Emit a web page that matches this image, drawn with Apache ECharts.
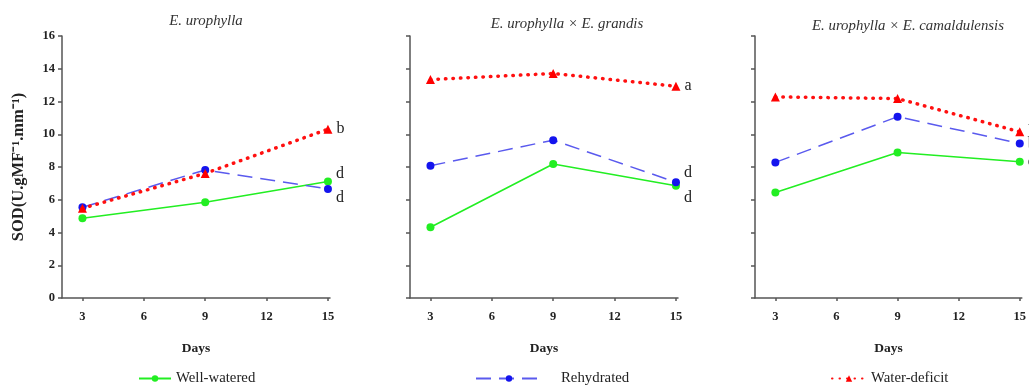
<!DOCTYPE html>
<html>
<head>
<meta charset="utf-8">
<script src="https://cdn.jsdelivr.net/npm/echarts@6/dist/echarts.min.js"></script>
<style>html,body{margin:0;padding:0;background:#fff}#c{width:1029px;height:385px}</style>
</head>
<body>
<div id="c"></div>
<script>
// ---- data ----
const days = [3, 9, 15];
const xTicks = [3, 6, 9, 12, 15];
const panelTitles = ['E. urophylla', 'E. urophylla \u00d7 E. grandis', 'E. urophylla \u00d7 E. camaldulensis'];
const seriesNames = ['Well-watered', 'Rehydrated', 'Water-deficit'];
const wellWatered1 = [4.87, 5.85, 7.11];
const rehydrated1 = [5.54, 7.82, 6.66];
const waterDeficit1 = [5.48, 7.61, 10.31];
const wellWatered2 = [4.32, 8.18, 6.86];
const rehydrated2 = [8.08, 9.64, 7.07];
const waterDeficit2 = [13.34, 13.71, 12.93];
const wellWatered3 = [6.44, 8.89, 8.32];
const rehydrated3 = [8.28, 11.07, 9.44];
const waterDeficit3 = [12.28, 12.18, 10.15];
const letters1 = ['d', 'd', 'b'];
const letters2 = ['d', 'd', 'a'];
const letters3 = ['c', 'b', 'b'];
const yAxisName = 'SOD(U.gMF\u207b\u00b9.mm\u207b\u00b9)';
const xAxisName = 'Days';

// ---- layout / style ----
const serif = 'Liberation Serif';
const gridLefts = [62, 410, 755];
const titleCenters = [201, 562, 903];
const titleTops = [9, 12, 14];
const panels = [
  [wellWatered1, rehydrated1, waterDeficit1],
  [wellWatered2, rehydrated2, waterDeficit2],
  [wellWatered3, rehydrated3, waterDeficit3]
];
const letters = [letters1, letters2, letters3];
// label offsets per panel per series
const labelOffsets = [
  [[0, -8], [0, 9], [0, 0]],
  [[0, 12], [0, -9], [0, 0]],
  [[0, 0], [0, 0], [0, 0]]
];
const styles = [
  {color: '#22ee22', line: {color: '#22ee22', width: 1.6, type: 'solid'}, symbol: 'circle', size: 8},
  {color: '#1414ee', line: {color: '#5a5aee', width: 1.5, type: [15, 8]}, symbol: 'circle', size: 8},
  {color: '#ff0000', line: {color: '#ff1010', width: 3.5, type: [0.5, 7], cap: 'round'}, symbol: 'triangle', size: 9}
];

const grids = [], xAxes = [], yAxes = [], series = [], titles = [];
for (let p = 0; p < 3; p++) {
  grids.push({left: gridLefts[p], top: 36, width: 268, height: 262});
  titles.push({
    text: panelTitles[p], left: titleCenters[p], top: titleTops[p], textAlign: 'center',
    textStyle: {fontFamily: serif, fontStyle: 'italic', fontWeight: 'normal', fontSize: 14.8, color: '#333'}
  });
  xAxes.push({
    type: 'value', gridIndex: p, min: 2, max: 15.1,
    name: xAxisName, nameLocation: 'middle', nameGap: 44,
    nameTextStyle: {fontFamily: serif, fontWeight: 'bold', fontSize: 13.5, color: '#222'},
    axisLine: {show: true, lineStyle: {color: '#555', width: 1.5}},
    axisTick: {show: true, length: 3, customValues: xTicks, lineStyle: {color: '#555', width: 1.5}},
    axisLabel: {customValues: xTicks, margin: 12, fontFamily: serif, fontWeight: 'bold', fontSize: 12.5, color: '#222'},
    splitLine: {show: false}
  });
  yAxes.push({
    type: 'value', gridIndex: p, min: 0, max: 16, interval: 2,
    name: p === 0 ? yAxisName : '', nameLocation: 'middle', nameGap: 35,
    nameTextStyle: {fontFamily: serif, fontWeight: 'bold', fontSize: 16.5, color: '#222'},
    axisLine: {show: true, lineStyle: {color: '#555', width: 1.5}},
    axisTick: {show: true, length: 4, lineStyle: {color: '#555', width: 1.5}},
    axisLabel: {show: p === 0, margin: 7, fontFamily: serif, fontWeight: 'bold', fontSize: 12.5, color: '#222'},
    splitLine: {show: false}
  });
  for (let s = 0; s < 3; s++) {
    const vals = panels[p][s];
    const st = styles[s];
    const data = days.map((d, i) => {
      const pt = {value: [d, vals[i]]};
      if (i === days.length - 1) {
        pt.label = {
          show: true, position: 'right', distance: 4, offset: labelOffsets[p][s],
          formatter: letters[p][s], fontFamily: serif, fontSize: 16, color: '#222'
        };
      }
      return pt;
    });
    series.push({
      name: seriesNames[s], type: 'line', xAxisIndex: p, yAxisIndex: p,
      data: data, symbol: st.symbol, symbolSize: st.size,
      itemStyle: {color: st.color}, lineStyle: st.line,
      z: 2 + s, animation: false
    });
  }
}

const legends = [
  {data: [seriesNames[0]], left: 133, itemWidth: 32},
  {data: [seriesNames[1]], left: 470, itemWidth: 66},
  {data: [seriesNames[2]], left: 826, itemWidth: 34}
].map((l, i) => ({
  data: l.data, left: l.left, top: 366, itemWidth: l.itemWidth, itemHeight: 8,
  textStyle: {fontFamily: serif, fontSize: 14.8, color: '#222', padding: [0, 0, 0, i === 1 ? 14 : 0]},
  selectedMode: false
}));

const chart = echarts.init(document.getElementById('c'));
chart.setOption({
  backgroundColor: '#fff',
  animation: false,
  title: titles,
  legend: legends,
  grid: grids,
  xAxis: xAxes,
  yAxis: yAxes,
  series: series
});
</script>
</body>
</html>
